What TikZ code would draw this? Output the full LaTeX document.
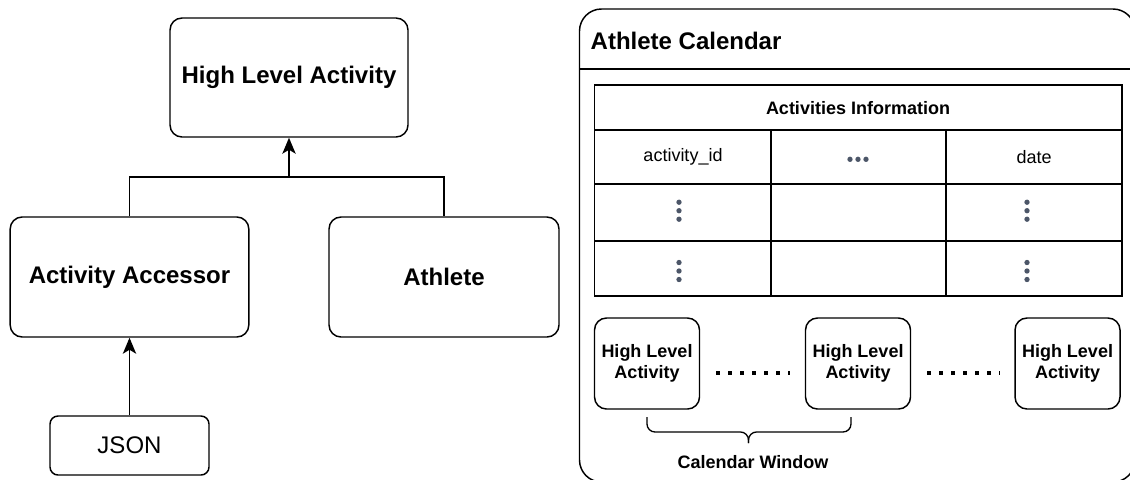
\documentclass[tikz,border=0pt]{standalone}
\usepackage{fontspec}
\setmainfont{Liberation Sans}
\usetikzlibrary{arrows.meta,positioning}

\definecolor{dotgray}{RGB}{76,86,104}
\newcommand{\bigtext}{\fontsize{18}{21}\selectfont\bfseries}
\newcommand{\smalltext}{\fontsize{13.5}{16}\selectfont}

\tikzset{
  box/.style={draw, rounded corners=9pt, align=center, font=\bigtext},
  window/.style={draw, rounded corners=9pt, align=center, font=\smalltext\bfseries,
    minimum width=78.75pt, minimum height=68.25pt, inner sep=0pt},
  arr/.style={-{Stealth[length=12pt,width=10pt,inset=3pt]}},
  dotrow/.style={line width=3pt, dash pattern=on 3pt off 6pt},
  cell/.style={font=\smalltext},
}

\begin{document}
\begin{tikzpicture}[x=0.75pt, y=-0.75pt, line width=1.1pt]
\path[use as bounding box, clip] (0,0) rectangle (1130,479);

% left hierarchy
\node[box, minimum width=178.5pt, minimum height=89.25pt] (hla) at (289,77.5) {High Level Activity};
\node[box, minimum width=179pt, minimum height=90pt] (acc) at (129.5,277) {Activity Accessor};
\node[box, minimum width=172.5pt, minimum height=90pt] (ath) at (444,277) {Athlete};
\node[draw, rounded corners=6pt, font=\bigtext\mdseries, minimum width=119.25pt, minimum height=44.25pt] (json) at (129.5,445.5) {JSON};

\coordinate (join) at (289,177);
\draw (acc.north) |- (join) -| (ath.north);
\draw[arr] (join) -- (hla.south);
\draw[arr] (json.north) -- (acc.south);

% calendar container
\draw[rounded corners=16.5pt] (579.5,9) rectangle (1135,482);
\draw (579.5,69) -- (1135,69);
\node[anchor=west, font=\bigtext, inner sep=0pt] (cal) at (590,41) {Athlete Calendar};

% activities table
\draw (594.5,85) rectangle (1122,296);
\draw (594.5,130) -- (1122,130);
\draw (594.5,184) -- (1122,184);
\draw (594.5,241) -- (1122,241);
\draw (771,130) -- (771,296);
\draw (946,130) -- (946,296);
\node[font=\smalltext\bfseries] (info) at (858,108) {Activities Information};
\node[cell] (aid) at (683,157) {activity\_id};
\node[cell] (date) at (1034,157) {date};
\foreach \dx in {-8,0,8}
  \fill[dotgray] (858+\dx,159.3) circle (2pt);
\foreach \cx/\cy in {679/210.7, 679/271, 1027/210.7, 1027/271}
  \foreach \dy in {-8.5,0,8.5}
    \fill[dotgray] (\cx,\cy+\dy) circle (2pt);

% calendar window
\node[window] (w1) at (647,363.5) {High Level\\Activity};
\node[window] (w2) at (858,363.5) {High Level\\Activity};
\node[window] (w3) at (1067.5,363.5) {High Level\\Activity};
\draw[dotrow] ([xshift=12pt,yshift=-7.1pt]w1.east) -- ([xshift=-11pt,yshift=-7.1pt]w2.west);
\draw[dotrow] ([xshift=12pt,yshift=-7.1pt]w2.east) -- ([xshift=-11pt,yshift=-7.1pt]w3.west);

\coordinate (bl) at (647,417);
\coordinate (br) at (851,417);
\coordinate (bt) at (748.5,443);
\draw[line width=1pt, rounded corners=6pt] (bl) -- (647,432) -- (748.5,432) -- (bt);
\draw[line width=1pt, rounded corners=6pt] (br) -- (851,432) -- (748.5,432) -- (bt);
\node[font=\smalltext\bfseries] (cw) at (753,462) {Calendar Window};

\end{tikzpicture}
\end{document}
